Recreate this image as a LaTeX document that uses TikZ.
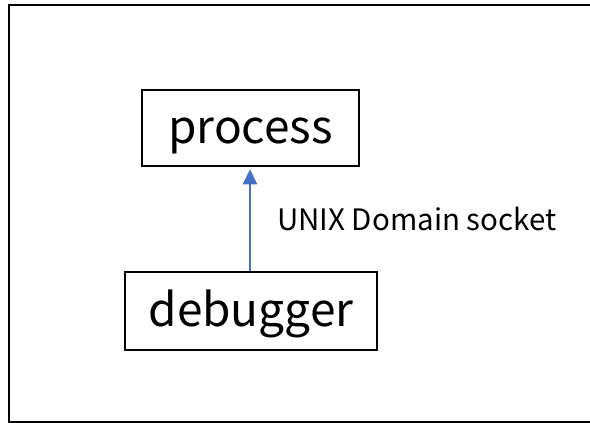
\documentclass[tikz,border=0pt]{standalone}
\usepackage{fontspec}
\setmainfont{Noto Sans CJK JP}
\usetikzlibrary{arrows.meta}
\definecolor{arrowblue}{HTML}{4472C4}
\tikzset{
  boxnode/.style={draw=black, line width=2.6pt, inner sep=0pt, font=\fontsize{46}{50}\selectfont, text height=40pt, text depth=10pt},
  link/.style={draw=arrowblue, line width=2.4pt, -{Triangle[width=14pt,length=15pt]}},
  lbl/.style={font=\fontsize{29.5}{32}\selectfont, inner sep=0pt, anchor=base west}
}
\begin{document}
\begin{tikzpicture}[x=1pt,y=-1pt]
\useasboundingbox (0,0) rectangle (590,423);
\begin{scope}
\clip (0,0) rectangle (590,423);
\draw[line width=2.2pt] (9,5) rectangle (610,422);
\end{scope}
\node[boxnode, minimum width=217pt, minimum height=76pt] (process) at (250.5,128) {process};
\node[boxnode, minimum width=252pt, minimum height=78pt] (debugger) at (251,311) {debugger};
\draw[link, shorten >=2pt] (debugger.north -| 250,0) -- (process.south -| 250,0);
\node[lbl] (label) at (277,230) {UNIX Domain socket};
\end{tikzpicture}
\end{document}
